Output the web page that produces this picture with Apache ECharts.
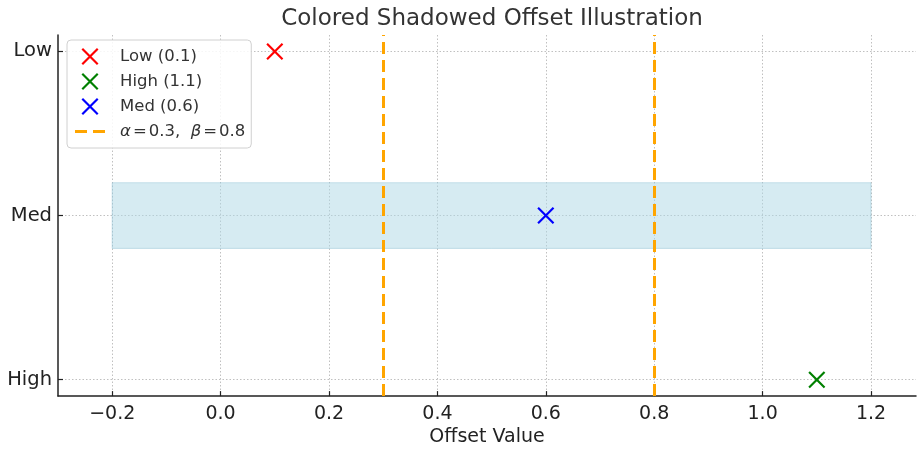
<!DOCTYPE html>
<html>
<head>
<meta charset="utf-8">
<script src="https://cdn.jsdelivr.net/npm/echarts@6/dist/echarts.min.js"></script>
<style>
  html, body { margin: 0; padding: 0; background: #fff; }
  #chart { width: 917px; height: 452px; }
</style>
</head>
<body>
<div id="chart"></div>
<script>
// levels on the y axis, bottom to top
var yLevels = ['High', 'Med', 'Low'];
// plotted points, in legend order
var pointNames = ['Low', 'High', 'Med'];
var pointOffsets = [0.1, 1.1, 0.6];
var pointColors = ['#ff0000', '#008000', '#0000ff'];
// reference lines
var alphaBeta = [0.3, 0.8];
// shaded band around Med
var bandX = [-0.2, 1.2];
var bandY = [0.8, 1.2];
// tick values
var xTicks = [-0.2, 0, 0.2, 0.4, 0.6, 0.8, 1.0, 1.2];
var yTicks = [0, 1, 2];

var FONT = 'DejaVu Sans';
// X marker as filled polygon
var X_PATH = 'path://M0,1.8L1.8,0L20,18.2L18.2,20Z M18.2,0L20,1.8L1.8,20L0,18.2Z';
var DASH_PATH = 'path://M0,0h12v3h-12z M18,0h12v3h-12z';
var lineName = 'α = 0.3,  β = 0.8';

var chart = echarts.init(document.getElementById('chart'));

var series = [];
// band
series.push({
  name: 'band',
  type: 'scatter',
  data: [],
  silent: true,
  markArea: {
    silent: true,
    itemStyle: { color: 'rgba(173,216,230,0.5)', borderColor: 'rgba(140,190,210,0.45)', borderWidth: 1 },
    data: [[{ xAxis: bandX[0], yAxis: bandY[0] }, { xAxis: bandX[1], yAxis: bandY[1] }]]
  }
});
// points
for (var i = 0; i < pointNames.length; i++) {
  series.push({
    name: pointNames[i] + ' (' + pointOffsets[i] + ')',
    type: 'scatter',
    symbol: X_PATH,
    symbolSize: 17,
    itemStyle: { color: pointColors[i], opacity: 1 },
    data: [[pointOffsets[i], yLevels.indexOf(pointNames[i])]],
    z: 5
  });
}
// dashed vertical lines
series.push({
  name: lineName,
  type: 'line',
  data: [],
  color: '#FFA500',
  markLine: {
    silent: true,
    symbol: 'none',
    label: { show: false },
    lineStyle: { color: '#FFA500', width: 3, type: [12, 6] },
    data: alphaBeta.map(function (v) { return { xAxis: v }; })
  },
  z: 4
});

var legendData = pointNames.map(function (n, i) {
  return { name: n + ' (' + pointOffsets[i] + ')', icon: X_PATH };
});
legendData.push({ name: lineName, icon: DASH_PATH });

chart.setOption({
  animation: false,
  title: {
    text: 'Colored Shadowed Offset Illustration',
    left: 487, top: 3, textAlign: 'center',
    textStyle: { fontFamily: FONT, fontSize: 23, fontWeight: 'normal', color: '#333' }
  },
  legend: {
    orient: 'vertical',
    left: 67, top: 40,
    padding: [8, 6, 8, 8],
    itemWidth: 30, itemHeight: 17, itemGap: 8,
    backgroundColor: 'rgba(255,255,255,0.85)',
    borderColor: '#d0d0d0', borderWidth: 1, borderRadius: 4,
    symbolKeepAspect: true,
    data: legendData,
    formatter: function (name) {
      if (name === lineName) return '{i|α}{e|=}0.3,  {i|β}{e|=}0.8';
      return name;
    },
    textStyle: {
      fontFamily: FONT, fontSize: 16.5, color: '#333', padding: [0, 0, 0, 10],
      rich: {
        i: { fontFamily: FONT, fontSize: 16.5, fontStyle: 'italic', color: '#333' },
        e: { fontFamily: FONT, fontSize: 16.5, color: '#333', padding: [0, 2] }
      }
    }
  },
  grid: { left: 58, right: 1, top: 35, bottom: 55 },
  xAxis: {
    type: 'value',
    min: -0.3, max: 1.283,
    name: 'Offset Value',
    nameLocation: 'middle',
    nameGap: 31,
    nameTextStyle: { fontFamily: FONT, fontSize: 19, color: '#222' },
    axisLine: { show: true, onZero: false, lineStyle: { color: '#222', width: 1.5 } },
    axisTick: { show: true, inside: true, length: 5, customValues: xTicks, lineStyle: { color: '#222', width: 1.2 } },
    axisLabel: {
      customValues: xTicks, margin: 8,
      fontFamily: FONT, fontSize: 19, color: '#222',
      formatter: function (v) { return v.toFixed(1).replace('-', '\u2212'); }
    },
    splitLine: { show: true, lineStyle: { color: '#c0c0c0', width: 1, type: [1.5, 2] } }
  },
  yAxis: {
    type: 'value',
    min: -0.1, max: 2.1,
    axisLine: { show: true, onZero: false, lineStyle: { color: '#222', width: 1.5 } },
    axisTick: { show: true, inside: true, length: 5, customValues: yTicks, lineStyle: { color: '#222', width: 1.2 } },
    axisLabel: {
      customValues: yTicks, margin: 6, padding: [3, 0, 0, 0],
      fontFamily: FONT, fontSize: 19.5, color: '#222',
      formatter: function (v) { return yLevels[Math.round(v)]; }
    },
    splitLine: { show: true, lineStyle: { color: '#c0c0c0', width: 1, type: [1.5, 2] } }
  },
  series: series
});
</script>
</body>
</html>
